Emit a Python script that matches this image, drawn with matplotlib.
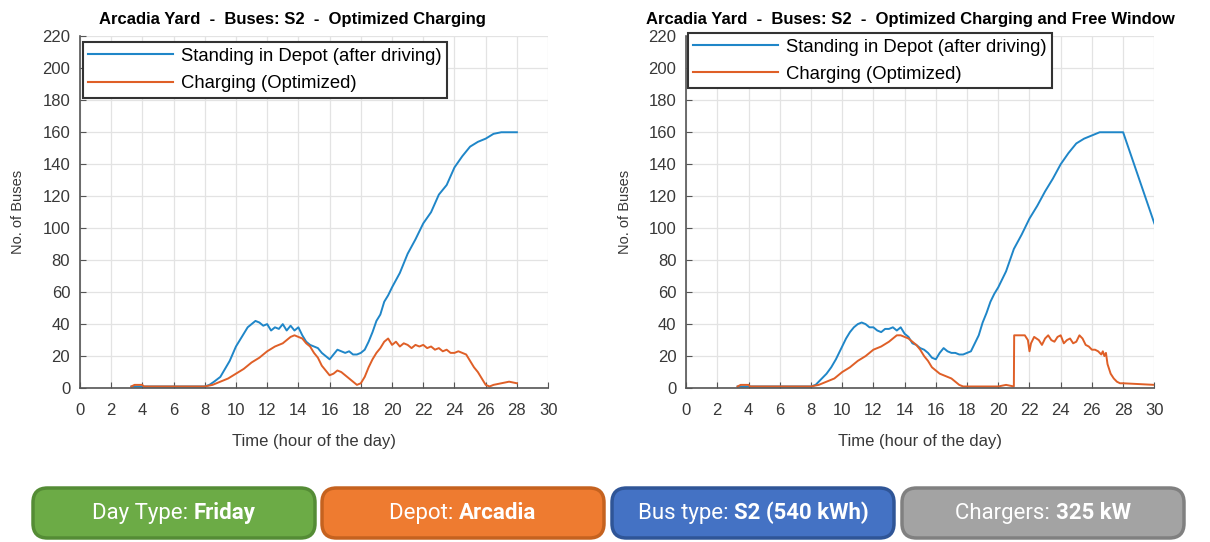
import matplotlib
matplotlib.use('Agg')
import matplotlib.pyplot as plt
import matplotlib.patches as patches
from matplotlib import font_manager

plt.rcParams['font.family'] = ['Liberation Sans', 'DejaVu Sans']

# ---- data ----
# left panel: optimized charging
left_stand_t = [3.3, 4, 5, 6, 7, 8, 8.3, 8.6, 9.0, 9.3,
                9.6, 10.0, 10.25, 10.5, 10.75, 11.0, 11.25, 11.5, 11.75, 12.0,
                12.25, 12.5, 12.75, 13.0, 13.25, 13.5, 13.75, 14.0, 14.25, 14.5,
                14.75, 15.0, 15.25, 15.5, 15.75, 16.0, 16.25, 16.5, 16.75, 17.0,
                17.25, 17.5, 17.75, 18.0, 18.25, 18.5, 18.75, 19.0, 19.25, 19.5,
                19.75, 20.0, 20.5, 21.0, 21.5, 22.0, 22.5, 23.0, 23.5, 24.0,
                24.5, 25.0, 25.5, 26.0, 26.5, 27.0, 27.5, 28.0]
left_stand_v = [1, 1, 1, 1, 1, 1, 2, 4, 7, 12,
                17, 26, 30, 34, 38, 40, 42, 41, 39, 40,
                36, 38, 37, 40, 36, 39, 36, 38, 33, 29,
                27, 26, 25, 22, 20, 18, 21, 24, 23, 22,
                23, 21, 21, 22, 24, 29, 35, 42, 46, 54,
                58, 63, 72, 84, 93, 103, 110, 121, 127, 138,
                145, 151, 154, 156, 159, 160, 160, 160]

left_charge_t = [3.3, 3.5, 4.0, 4.1, 5, 6, 7, 8, 8.5, 9.0,
                 9.5, 10.0, 10.5, 11.0, 11.5, 12.0, 12.5, 13.0, 13.25, 13.5,
                 13.75, 14.0, 14.25, 14.5, 14.75, 15.0, 15.25, 15.5, 15.75, 16.0,
                 16.25, 16.5, 16.75, 17.0, 17.25, 17.5, 17.75, 18.0, 18.25, 18.5,
                 18.75, 19.0, 19.25, 19.5, 19.75, 20.0, 20.25, 20.5, 20.75, 21.0,
                 21.25, 21.5, 21.75, 22.0, 22.25, 22.5, 22.75, 23.0, 23.25, 23.5,
                 23.75, 24.0, 24.25, 24.5, 24.75, 25.0, 25.25, 25.5, 25.75, 26.0,
                 26.25, 26.5, 27.0, 27.5, 28.0]
left_charge_v = [1, 2, 2, 1, 1, 1, 1, 1, 2, 4,
                 6, 9, 12, 16, 19, 23, 26, 28, 30, 32,
                 33, 32, 31, 28, 26, 22, 19, 14, 11, 8,
                 9, 11, 10, 8, 6, 4, 2, 3, 7, 13,
                 18, 22, 25, 29, 31, 27, 29, 26, 28, 27,
                 25, 27, 26, 27, 25, 26, 24, 25, 23, 24,
                 22, 22, 23, 22, 21, 17, 13, 10, 6, 2,
                 1, 2, 3, 4, 3]

# right panel: optimized charging and free window
right_stand_t = [3.3, 4, 5, 6, 7, 8, 8.3, 8.6, 9.0, 9.3,
                 9.6, 10.0, 10.25, 10.5, 10.75, 11.0, 11.25, 11.5, 11.75, 12.0,
                 12.25, 12.5, 12.75, 13.0, 13.25, 13.5, 13.75, 14.0, 14.25, 14.5,
                 14.75, 15.0, 15.25, 15.5, 15.75, 16.0, 16.25, 16.5, 16.75, 17.0,
                 17.25, 17.5, 17.75, 18.0, 18.25, 18.5, 18.75, 19.0, 19.25, 19.5,
                 19.75, 20.0, 20.5, 21.0, 21.5, 22.0, 22.5, 23.0, 23.5, 24.0,
                 24.5, 25.0, 25.5, 26.0, 26.5, 27.0, 28.0, 30.0]
right_stand_v = [1, 1, 1, 1, 1, 1, 2, 5, 9, 13,
                 18, 26, 31, 35, 38, 40, 41, 40, 38, 38,
                 36, 35, 37, 37, 38, 36, 38, 34, 32, 28,
                 27, 25, 24, 22, 19, 18, 22, 25, 23, 22,
                 22, 21, 21, 22, 23, 28, 33, 41, 47, 54,
                 59, 63, 73, 87, 96, 106, 114, 123, 131, 140,
                 147, 153, 156, 158, 160, 160, 160, 103]

right_charge_t = [3.3, 3.5, 4.0, 4.1, 5, 6, 7, 8, 8.5, 9.0,
                  9.5, 10.0, 10.5, 11.0, 11.5, 12.0, 12.5, 13.0, 13.25, 13.5,
                  13.75, 14.0, 14.25, 14.5, 14.75, 15.0, 15.25, 15.5, 15.75, 16.0,
                  16.25, 16.5, 16.75, 17.0, 17.25, 17.5, 17.75, 18.0, 19.0, 20.0,
                  20.5, 21.0, 21.02, 21.3, 21.7, 21.9, 22.0, 22.1, 22.3, 22.6,
                  22.8, 23.0, 23.2, 23.4, 23.6, 23.8, 24.0, 24.2, 24.4, 24.6,
                  24.8, 25.0, 25.2, 25.4, 25.6, 25.8, 26.0, 26.2, 26.4, 26.6,
                  26.7, 26.8, 26.9, 27.0, 27.2, 27.4, 27.6, 27.8, 28.0, 29.0,
                  30.0]
right_charge_v = [1, 2, 2, 1, 1, 1, 1, 1, 2, 4,
                  6, 10, 13, 17, 20, 24, 26, 29, 31, 33,
                  33, 32, 31, 29, 27, 24, 20, 17, 13, 11,
                  9, 8, 7, 6, 4, 2, 1, 1, 1, 1,
                  2, 1, 33, 33, 33, 30, 23, 28, 32, 30,
                  27, 31, 33, 30, 29, 32, 33, 28, 30, 31,
                  28, 29, 33, 31, 27, 26, 24, 24, 23, 21,
                  23, 20, 22, 15, 9, 6, 4, 3, 3, 2.5,
                  2]

titles = ["Arcadia Yard  -  Buses: S2  -  Optimized Charging",
          "Arcadia Yard  -  Buses: S2  -  Optimized Charging and Free Window"]
series_names = ["Standing in Depot (after driving)", "Charging (Optimized)"]

info_labels = ["Day Type: ", "Depot: ", "Bus type: ", "Chargers: "]
info_values = ["Friday", "Arcadia", "S2 (540 kWh)", "325 kW"]
info_fill = ['#6cab46', '#ee7b30', '#4472c4', '#a3a3a3']
info_edge = ['#548c35', '#c5621f', '#2f5597', '#808080']

BLUE = '#1f86c8'
ORANGE = '#df5f27'

# condensed face for the bottom boxes if it is there
names = {f.name for f in font_manager.fontManager.ttflist}
box_family = ['Liberation Sans Narrow'] if 'Liberation Sans Narrow' in names else ['Roboto', 'Liberation Sans']
box_size = 17 if 'Liberation Sans Narrow' in names else 16

fig = plt.figure(figsize=(12.1, 5.42), dpi=100)

panels = [
    (left_stand_t, left_stand_v, left_charge_t, left_charge_v, 0.066, (0.006, 0.983), 0.453),
    (right_stand_t, right_stand_v, right_charge_t, right_charge_v, 0.567, (0.004, 1.009), 0.478),
]

for i, (st, sv, ct, cv, x0, leg_anchor, title_x) in enumerate(panels):
    ax = fig.add_axes([x0, 0.284, 0.387, 0.649])
    ax.plot(st, sv, color=BLUE, lw=1.4, label=series_names[0])
    ax.plot(ct, cv, color=ORANGE, lw=1.4, label=series_names[1])
    ax.set_xlim(0, 30)
    ax.set_ylim(0, 220)
    ax.set_xticks(range(0, 31, 2))
    ax.set_yticks(range(0, 221, 20))
    ax.grid(True, color='#e3e3e3', lw=0.9)
    ax.set_axisbelow(True)
    for s in ['top', 'right']:
        ax.spines[s].set_visible(False)
    for s in ['left', 'bottom']:
        ax.spines[s].set_color('#555555')
        ax.spines[s].set_linewidth(1.2)
    ax.tick_params(direction='in', length=4, colors='#555555',
                   labelcolor='#383838', labelsize=12)
    ax.tick_params(axis='x', pad=11)
    ax.tick_params(axis='y', pad=7)
    ax.set_xlabel("Time (hour of the day)", fontsize=12, color='#383838', labelpad=11)
    ax.set_ylabel("No. of Buses", fontsize=10.5, color='#383838', labelpad=12)
    ax.set_title(titles[i], fontsize=12, weight='bold', pad=9, x=title_x)
    leg = ax.legend(loc='upper left', bbox_to_anchor=leg_anchor, fontsize=13.3,
                    handlelength=4.6, fancybox=False, framealpha=1,
                    edgecolor='#333333', borderpad=0.3, labelspacing=0.55,
                    handletextpad=0.4, borderaxespad=0)
    leg.get_frame().set_linewidth(1.5)
    for line in leg.get_lines():
        line.set_linewidth(1.5)

# ---- info boxes along the bottom ----
box_x = [33, 322, 612, 902]
box_w = 282
W, H = 1210, 542
renderer = fig.canvas.get_renderer()
for j in range(4):
    bx = box_x[j] / W
    bw = box_w / W
    by = 4 / H
    bh = 50 / H
    fig.patches.append(patches.FancyBboxPatch(
        (bx, by), bw, bh, boxstyle="round,pad=0,rounding_size=0.012",
        transform=fig.transFigure, facecolor=info_fill[j],
        edgecolor=info_edge[j], lw=2.5, mutation_aspect=W / H))
    cx = bx + bw / 2
    cy = by + bh / 2
    t1 = fig.text(0, cy, info_labels[j], color='white', fontsize=box_size,
                  va='center', ha='left', family=box_family)
    t2 = fig.text(0, cy, info_values[j], color='white', fontsize=box_size,
                  weight='bold', va='center', ha='left', family=box_family)
    w1 = t1.get_window_extent(renderer).width / W
    w2 = t2.get_window_extent(renderer).width / W
    start = cx - (w1 + w2) / 2
    t1.set_x(start)
    t2.set_x(start + w1)

fig.savefig("out.png", dpi=100)
